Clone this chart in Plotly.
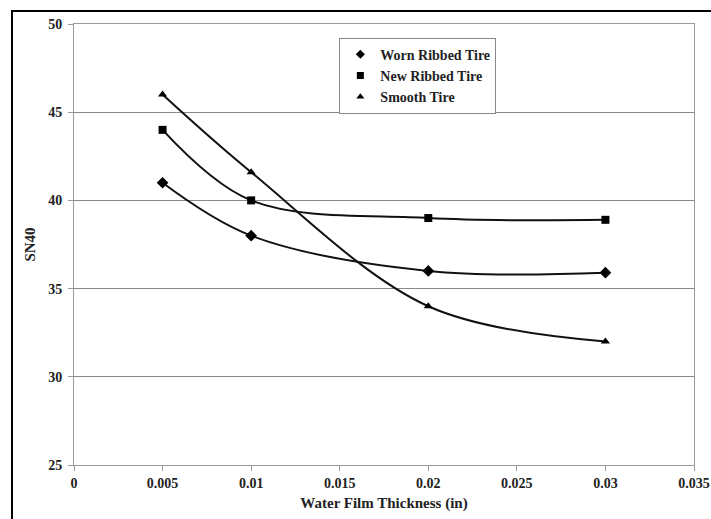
import plotly.graph_objects as go

thickness = [0.005, 0.01, 0.02, 0.03]
worn_ribbed = [41.0, 38.0, 36.0, 35.9]
new_ribbed = [44.0, 40.0, 39.0, 38.9]
smooth_tire = [46.0, 41.6, 34.0, 32.0]

series = [
    ("Worn Ribbed Tire", worn_ribbed, "diamond", 9),
    ("New Ribbed Tire", new_ribbed, "square", 8),
    ("Smooth Tire", smooth_tire, "triangle-up", 8),
]

x_ticks = [0, 0.005, 0.01, 0.015, 0.02, 0.025, 0.03, 0.035]
x_tick_labels = ["0", "0.005", "0.01", "0.015", "0.02", "0.025", "0.03", "0.035"]
y_ticks = [25, 30, 35, 40, 45, 50]

fig = go.Figure()
for name, vals, sym, size in series:
    fig.add_trace(go.Scatter(
        x=thickness, y=vals, mode="lines+markers", name=name,
        line=dict(color="#111111", width=2, shape="spline", smoothing=1.0),
        marker=dict(symbol=sym, size=size, color="#000000"),
        showlegend=False,
    ))
    fig.add_trace(go.Scatter(
        x=[None], y=[None], mode="markers", name=name,
        marker=dict(symbol=sym, size=7, color="#000000"),
        showlegend=True,
    ))

font_family = "Liberation Serif"
fig.update_layout(
    width=711, height=519,
    margin=dict(l=74, r=17, t=24, b=54),
    paper_bgcolor="white", plot_bgcolor="white",
    font=dict(family=font_family, color="#222222"),
    showlegend=True,
    legend=dict(
        x=0.428, y=0.969, xanchor="left", yanchor="top",
        bgcolor="white", bordercolor="#888888", borderwidth=1,
        font=dict(family=font_family, size=14, color="#222222", weight="bold"),
        itemwidth=30, tracegroupgap=0,
    ),
    xaxis=dict(
        range=[0, 0.035], tickvals=x_ticks, ticktext=x_tick_labels,
        showgrid=False, zeroline=False, automargin=False,
        showline=True, linecolor="#999999", linewidth=1, mirror=True,
        ticks="outside", ticklen=5, tickcolor="#999999",
        tickfont=dict(family=font_family, size=14, color="#222222", weight="bold"),
        title=dict(text="Water Film Thickness (in)", standoff=7,
                   font=dict(family=font_family, size=15, color="#222222", weight="bold")),
    ),
    yaxis=dict(
        range=[25, 50], tickvals=y_ticks,
        showgrid=True, gridcolor="#8a8a8a", gridwidth=1, zeroline=False, automargin=False,
        showline=True, linecolor="#999999", linewidth=1, mirror=True,
        ticks="outside", ticklen=5, tickcolor="#999999", ticklabelstandoff=3,
        tickfont=dict(family=font_family, size=14, color="#222222", weight="bold"),
        title=dict(text="SN40", standoff=8,
                   font=dict(family=font_family, size=15, color="#222222", weight="bold")),
    ),
    shapes=[dict(
        type="rect", xref="paper", yref="paper",
        x0=-0.1, x1=1.2, y0=-0.3, y1=1.0295,
        line=dict(color="#000000", width=2), fillcolor="rgba(0,0,0,0)", layer="below",
    )],
)

fig.write_html("out.html")
